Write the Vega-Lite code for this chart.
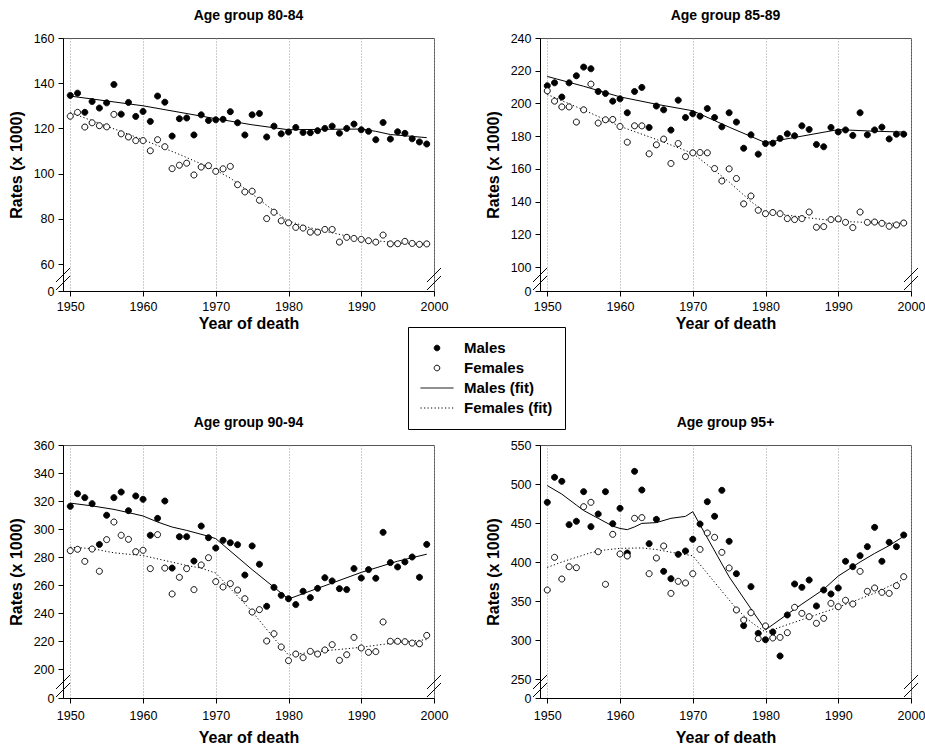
{
  "$schema": "https://vega.github.io/schema/vega-lite/v6.json",
  "background": "white",
  "padding": {"left": 7, "top": 8, "right": 5, "bottom": 3},
  "spacing": 83,
  "config": {
    "font": "Liberation Sans",
    "view": {"stroke": "#555", "strokeWidth": 1},
    "axis": {
      "labelFont": "Liberation Sans", "labelFontSize": 12.5, "labelColor": "black",
      "titleFont": "Liberation Sans", "titleFontSize": 16, "titleFontWeight": "bold", "titleColor": "black",
      "domainColor": "black", "tickColor": "black", "tickSize": 5, "labelPadding": 4,
      "labelFlush": false, "labelOverlap": false
    },
    "axisX": {"grid": true, "gridColor": "#999", "gridDash": [1, 2], "titlePadding": 3},
    "axisY": {"grid": false, "titlePadding": 9},
    "legend": {"title": null, "orient": "none", "legendX": 345, "legendY": 289, "strokeColor": "black", "fillColor": "white", "padding": 12, "labelFont": "Liberation Sans", "labelFontSize": 15, "labelFontWeight": "bold", "labelColor": "black", "labelOffset": 10, "symbolSize": 1089, "symbolStrokeWidth": 1, "clipHeight": 18, "rowPadding": 2},
    "title": {"font": "Liberation Sans", "fontSize": 14, "fontWeight": "bold", "color": "black", "anchor": "middle", "frame": "group", "offset": 9, "baseline": "alphabetic"}
  },
  "datasets": {
    "obs": [
      {"a":"80-84","year":1950,"Males":134.6,"Females":125.4},{"a":"80-84","year":1951,"Males":135.6,"Females":127.1},{"a":"80-84","year":1952,"Males":127.1,"Females":120.6},{"a":"80-84","year":1953,"Males":131.9,"Females":122.5},{"a":"80-84","year":1954,"Males":129.0,"Females":121.2},{"a":"80-84","year":1955,"Males":131.3,"Females":120.7},{"a":"80-84","year":1956,"Males":139.4,"Females":126.2},{"a":"80-84","year":1957,"Males":126.3,"Females":117.6},{"a":"80-84","year":1958,"Males":131.5,"Females":116.2},{"a":"80-84","year":1959,"Males":125.3,"Females":114.6},
      {"a":"80-84","year":1960,"Males":127.5,"Females":114.6},{"a":"80-84","year":1961,"Males":123.1,"Females":110.1},{"a":"80-84","year":1962,"Males":134.3,"Females":115.0},{"a":"80-84","year":1963,"Males":131.6,"Females":111.9},{"a":"80-84","year":1964,"Males":116.6,"Females":102.2},{"a":"80-84","year":1965,"Males":124.3,"Females":103.7},{"a":"80-84","year":1966,"Males":124.6,"Females":104.6},{"a":"80-84","year":1967,"Males":117.1,"Females":99.4},{"a":"80-84","year":1968,"Males":126.0,"Females":102.9},{"a":"80-84","year":1969,"Males":123.5,"Females":103.5},
      {"a":"80-84","year":1970,"Males":123.8,"Females":101.0},{"a":"80-84","year":1971,"Males":124.0,"Females":102.1},{"a":"80-84","year":1972,"Males":127.4,"Females":103.2},{"a":"80-84","year":1973,"Males":122.5,"Females":95.1},{"a":"80-84","year":1974,"Males":117.1,"Females":91.9},{"a":"80-84","year":1975,"Males":126.0,"Females":92.2},{"a":"80-84","year":1976,"Males":126.6,"Females":88.2},{"a":"80-84","year":1977,"Males":116.2,"Females":80.1},{"a":"80-84","year":1978,"Males":121.0,"Females":82.9},{"a":"80-84","year":1979,"Males":117.6,"Females":79.1},
      {"a":"80-84","year":1980,"Males":118.4,"Females":78.2},{"a":"80-84","year":1981,"Males":120.4,"Females":76.2},{"a":"80-84","year":1982,"Males":118.2,"Females":75.9},{"a":"80-84","year":1983,"Males":118.1,"Females":74.1},{"a":"80-84","year":1984,"Males":119.0,"Females":74.1},{"a":"80-84","year":1985,"Males":120.0,"Females":75.3},{"a":"80-84","year":1986,"Males":121.0,"Females":75.3},{"a":"80-84","year":1987,"Males":117.9,"Females":69.7},{"a":"80-84","year":1988,"Males":120.0,"Females":71.8},{"a":"80-84","year":1989,"Males":121.9,"Females":71.3},
      {"a":"80-84","year":1990,"Males":119.4,"Females":70.9},{"a":"80-84","year":1991,"Males":118.7,"Females":70.3},{"a":"80-84","year":1992,"Males":115.0,"Females":69.7},{"a":"80-84","year":1993,"Males":122.6,"Females":72.8},{"a":"80-84","year":1994,"Males":115.3,"Females":68.9},{"a":"80-84","year":1995,"Males":118.5,"Females":69.0},{"a":"80-84","year":1996,"Males":117.8,"Females":70.0},{"a":"80-84","year":1997,"Males":115.4,"Females":69.1},{"a":"80-84","year":1998,"Males":114.0,"Females":68.7},{"a":"80-84","year":1999,"Males":113.1,"Females":68.9},

      {"a":"85-89","year":1950,"Males":210.8,"Females":207.7},{"a":"85-89","year":1951,"Males":212.6,"Females":201.4},{"a":"85-89","year":1952,"Males":203.9,"Females":197.9},{"a":"85-89","year":1953,"Males":212.6,"Females":197.9},{"a":"85-89","year":1954,"Males":216.9,"Females":188.6},{"a":"85-89","year":1955,"Males":222.2,"Females":196.1},{"a":"85-89","year":1956,"Males":221.2,"Females":211.8},{"a":"85-89","year":1957,"Males":207.3,"Females":188.0},{"a":"85-89","year":1958,"Males":206.1,"Females":190.0},{"a":"85-89","year":1959,"Males":201.4,"Females":190.2},
      {"a":"85-89","year":1960,"Males":202.8,"Females":185.9},{"a":"85-89","year":1961,"Males":194.3,"Females":176.3},{"a":"85-89","year":1962,"Males":207.3,"Females":186.3},{"a":"85-89","year":1963,"Males":209.8,"Females":186.3},{"a":"85-89","year":1964,"Males":185.3,"Females":169.2},{"a":"85-89","year":1965,"Males":198.4,"Females":174.7},{"a":"85-89","year":1966,"Males":196.1,"Females":178.2},{"a":"85-89","year":1967,"Males":183.7,"Females":163.3},{"a":"85-89","year":1968,"Males":202.0,"Females":175.5},{"a":"85-89","year":1969,"Males":191.4,"Females":167.5},
      {"a":"85-89","year":1970,"Males":193.7,"Females":169.8},{"a":"85-89","year":1971,"Males":192.2,"Females":170.0},{"a":"85-89","year":1972,"Males":196.9,"Females":169.8},{"a":"85-89","year":1973,"Males":191.4,"Females":160.2},{"a":"85-89","year":1974,"Males":185.7,"Females":152.6},{"a":"85-89","year":1975,"Males":194.3,"Females":160.0},{"a":"85-89","year":1976,"Males":188.6,"Females":154.1},{"a":"85-89","year":1977,"Males":172.6,"Females":138.6},{"a":"85-89","year":1978,"Males":180.8,"Females":143.4},{"a":"85-89","year":1979,"Males":169.0,"Females":134.7},
      {"a":"85-89","year":1980,"Males":175.5,"Females":132.6},{"a":"85-89","year":1981,"Males":175.7,"Females":133.3},{"a":"85-89","year":1982,"Males":178.6,"Females":132.6},{"a":"85-89","year":1983,"Males":181.4,"Females":129.6},{"a":"85-89","year":1984,"Males":180.2,"Females":129.0},{"a":"85-89","year":1985,"Males":186.3,"Females":129.6},{"a":"85-89","year":1986,"Males":184.1,"Females":133.6},{"a":"85-89","year":1987,"Males":174.9,"Females":124.3},{"a":"85-89","year":1988,"Males":173.5,"Females":124.7},{"a":"85-89","year":1989,"Males":185.3,"Females":129.0},
      {"a":"85-89","year":1990,"Males":182.6,"Females":129.4},{"a":"85-89","year":1991,"Males":183.8,"Females":127.3},{"a":"85-89","year":1992,"Males":180.4,"Females":124.1},{"a":"85-89","year":1993,"Males":194.3,"Females":133.6},{"a":"85-89","year":1994,"Males":180.8,"Females":127.3},{"a":"85-89","year":1995,"Males":183.8,"Females":127.5},{"a":"85-89","year":1996,"Males":185.5,"Females":126.7},{"a":"85-89","year":1997,"Males":178.3,"Females":124.9},{"a":"85-89","year":1998,"Males":181.2,"Females":125.7},{"a":"85-89","year":1999,"Males":181.2,"Females":126.9},

      {"a":"90-94","year":1950,"Males":316.2,"Females":284.5},{"a":"90-94","year":1951,"Males":325.2,"Females":285.5},{"a":"90-94","year":1952,"Males":322.4,"Females":276.9},{"a":"90-94","year":1953,"Males":318.1,"Females":285.7},{"a":"90-94","year":1954,"Males":289.0,"Females":269.8},{"a":"90-94","year":1955,"Males":309.8,"Females":292.4},{"a":"90-94","year":1956,"Males":322.4,"Females":305.0},{"a":"90-94","year":1957,"Males":326.4,"Females":295.5},{"a":"90-94","year":1958,"Males":313.1,"Females":292.6},{"a":"90-94","year":1959,"Males":323.6,"Females":283.8},
      {"a":"90-94","year":1960,"Males":321.2,"Females":284.8},{"a":"90-94","year":1961,"Males":295.5,"Females":271.7},{"a":"90-94","year":1962,"Males":307.6,"Females":296.0},{"a":"90-94","year":1963,"Males":320.0,"Females":272.1},{"a":"90-94","year":1964,"Males":272.1,"Females":253.6},{"a":"90-94","year":1965,"Males":294.5,"Females":265.5},{"a":"90-94","year":1966,"Males":294.5,"Females":271.7},{"a":"90-94","year":1967,"Males":277.1,"Females":256.7},{"a":"90-94","year":1968,"Males":302.1,"Females":274.3},{"a":"90-94","year":1969,"Males":293.8,"Females":279.5},
      {"a":"90-94","year":1970,"Males":286.4,"Females":262.4},{"a":"90-94","year":1971,"Males":291.9,"Females":258.6},{"a":"90-94","year":1972,"Males":290.2,"Females":261.0},{"a":"90-94","year":1973,"Males":288.8,"Females":256.4},{"a":"90-94","year":1974,"Males":267.1,"Females":250.2},{"a":"90-94","year":1975,"Males":287.9,"Females":240.7},{"a":"90-94","year":1976,"Males":274.8,"Females":242.4},{"a":"90-94","year":1977,"Males":244.8,"Females":220.0},{"a":"90-94","year":1978,"Males":258.3,"Females":225.2},{"a":"90-94","year":1979,"Males":252.6,"Females":215.7},
      {"a":"90-94","year":1980,"Males":250.2,"Females":206.0},{"a":"90-94","year":1981,"Males":246.0,"Females":210.7},{"a":"90-94","year":1982,"Males":255.5,"Females":208.1},{"a":"90-94","year":1983,"Males":251.0,"Females":212.6},{"a":"90-94","year":1984,"Males":257.6,"Females":210.7},{"a":"90-94","year":1985,"Males":265.2,"Females":213.6},{"a":"90-94","year":1986,"Males":262.9,"Females":217.4},{"a":"90-94","year":1987,"Males":257.4,"Females":206.2},{"a":"90-94","year":1988,"Males":256.7,"Females":210.2},{"a":"90-94","year":1989,"Males":271.7,"Females":222.6},
      {"a":"90-94","year":1990,"Males":265.0,"Females":215.0},{"a":"90-94","year":1991,"Males":271.0,"Females":211.9},{"a":"90-94","year":1992,"Males":264.8,"Females":212.4},{"a":"90-94","year":1993,"Males":297.6,"Females":233.6},{"a":"90-94","year":1994,"Males":276.0,"Females":219.8},{"a":"90-94","year":1995,"Males":272.9,"Females":219.8},{"a":"90-94","year":1996,"Males":276.5,"Females":219.5},{"a":"90-94","year":1997,"Males":280.0,"Females":218.5},{"a":"90-94","year":1998,"Males":265.5,"Females":218.0},{"a":"90-94","year":1999,"Males":289.0,"Females":224.0},

      {"a":"95+","year":1950,"Males":476.5,"Females":364.1},{"a":"95+","year":1951,"Males":508.6,"Females":406.0},{"a":"95+","year":1952,"Males":503.4,"Females":378.2},{"a":"95+","year":1953,"Males":447.9,"Females":394.0},{"a":"95+","year":1954,"Males":452.2,"Females":392.7},{"a":"95+","year":1955,"Males":490.2,"Females":470.9},{"a":"95+","year":1956,"Males":445.3,"Females":476.5},{"a":"95+","year":1957,"Males":461.5,"Females":413.2},{"a":"95+","year":1958,"Males":490.2,"Females":371.4},{"a":"95+","year":1959,"Males":449.1,"Females":435.5},
      {"a":"95+","year":1960,"Males":468.8,"Females":410.3},{"a":"95+","year":1961,"Males":411.5,"Females":407.7},{"a":"95+","year":1962,"Males":516.2,"Females":456.0},{"a":"95+","year":1963,"Males":492.3,"Females":456.9},{"a":"95+","year":1964,"Males":423.5,"Females":385.0},{"a":"95+","year":1965,"Males":454.7,"Females":405.1},{"a":"95+","year":1966,"Males":388.0,"Females":420.5},{"a":"95+","year":1967,"Males":378.6,"Females":359.8},{"a":"95+","year":1968,"Males":409.8,"Females":375.2},{"a":"95+","year":1969,"Males":414.1,"Females":373.1},
      {"a":"95+","year":1970,"Males":429.1,"Females":385.0},{"a":"95+","year":1971,"Males":448.7,"Females":416.2},{"a":"95+","year":1972,"Males":477.3,"Females":437.2},{"a":"95+","year":1973,"Males":458.6,"Females":431.6},{"a":"95+","year":1974,"Males":491.9,"Females":412.4},{"a":"95+","year":1975,"Males":426.5,"Females":392.3},{"a":"95+","year":1976,"Males":385.0,"Females":338.5},{"a":"95+","year":1977,"Males":318.4,"Females":325.6},{"a":"95+","year":1978,"Males":368.4,"Females":335.0},{"a":"95+","year":1979,"Males":308.5,"Females":301.7},
      {"a":"95+","year":1980,"Males":300.4,"Females":318.0},{"a":"95+","year":1981,"Males":310.3,"Females":302.6},{"a":"95+","year":1982,"Males":279.5,"Females":303.4},{"a":"95+","year":1983,"Males":332.1,"Females":309.4},{"a":"95+","year":1984,"Males":371.8,"Females":341.9},{"a":"95+","year":1985,"Males":367.5,"Females":334.2},{"a":"95+","year":1986,"Males":376.9,"Females":329.9},{"a":"95+","year":1987,"Males":343.6,"Females":321.4},{"a":"95+","year":1988,"Males":364.1,"Females":327.8},{"a":"95+","year":1989,"Males":359.0,"Females":347.0},
      {"a":"95+","year":1990,"Males":366.7,"Females":342.7},{"a":"95+","year":1991,"Males":400.9,"Females":350.9},{"a":"95+","year":1992,"Males":394.0,"Females":346.2},{"a":"95+","year":1993,"Males":408.1,"Females":388.0},{"a":"95+","year":1994,"Males":419.7,"Females":362.4},{"a":"95+","year":1995,"Males":444.4,"Females":366.7},{"a":"95+","year":1996,"Males":400.9,"Females":361.1},{"a":"95+","year":1997,"Males":425.2,"Females":359.8},{"a":"95+","year":1998,"Males":419.7,"Females":369.7},{"a":"95+","year":1999,"Males":434.6,"Females":381.2}
    ],
    "fit": [
      {"a":"80-84","s":"M","year":1950,"rate":134.3},{"a":"80-84","s":"M","year":1960,"rate":130.0},{"a":"80-84","s":"M","year":1970,"rate":124.3},{"a":"80-84","s":"M","year":1975,"rate":121.6},{"a":"80-84","s":"M","year":1980,"rate":119.4},{"a":"80-84","s":"M","year":1985,"rate":119.6},{"a":"80-84","s":"M","year":1990,"rate":119.7},{"a":"80-84","s":"M","year":1992,"rate":118.7},{"a":"80-84","s":"M","year":1994,"rate":117.3},{"a":"80-84","s":"M","year":1999,"rate":115.9},
      {"a":"80-84","s":"F","year":1950,"rate":127.0},{"a":"80-84","s":"F","year":1955,"rate":121.0},{"a":"80-84","s":"F","year":1960,"rate":115.0},{"a":"80-84","s":"F","year":1965,"rate":108.5},{"a":"80-84","s":"F","year":1970,"rate":101.5},{"a":"80-84","s":"F","year":1972,"rate":98.0},{"a":"80-84","s":"F","year":1975,"rate":91.0},{"a":"80-84","s":"F","year":1978,"rate":83.5},{"a":"80-84","s":"F","year":1980,"rate":79.0},{"a":"80-84","s":"F","year":1983,"rate":76.0},{"a":"80-84","s":"F","year":1985,"rate":74.5},{"a":"80-84","s":"F","year":1990,"rate":71.0},{"a":"80-84","s":"F","year":1995,"rate":69.3},{"a":"80-84","s":"F","year":1999,"rate":68.5},
      {"a":"85-89","s":"M","year":1950,"rate":216.5},{"a":"85-89","s":"M","year":1955,"rate":210.5},{"a":"85-89","s":"M","year":1960,"rate":204.0},{"a":"85-89","s":"M","year":1965,"rate":199.5},{"a":"85-89","s":"M","year":1970,"rate":195.5},{"a":"85-89","s":"M","year":1975,"rate":185.5},{"a":"85-89","s":"M","year":1980,"rate":176.0},{"a":"85-89","s":"M","year":1985,"rate":180.0},{"a":"85-89","s":"M","year":1990,"rate":184.0},{"a":"85-89","s":"M","year":1995,"rate":183.0},{"a":"85-89","s":"M","year":1999,"rate":182.5},
      {"a":"85-89","s":"F","year":1950,"rate":205.5},{"a":"85-89","s":"F","year":1955,"rate":196.0},{"a":"85-89","s":"F","year":1960,"rate":186.0},{"a":"85-89","s":"F","year":1965,"rate":178.0},{"a":"85-89","s":"F","year":1970,"rate":169.5},{"a":"85-89","s":"F","year":1975,"rate":152.0},{"a":"85-89","s":"F","year":1978,"rate":140.0},{"a":"85-89","s":"F","year":1980,"rate":133.5},{"a":"85-89","s":"F","year":1985,"rate":130.5},{"a":"85-89","s":"F","year":1990,"rate":128.0},{"a":"85-89","s":"F","year":1995,"rate":127.0},{"a":"85-89","s":"F","year":1999,"rate":126.7},
      {"a":"90-94","s":"M","year":1950,"rate":318.5},{"a":"90-94","s":"M","year":1953,"rate":316.5},{"a":"90-94","s":"M","year":1956,"rate":314.0},{"a":"90-94","s":"M","year":1958,"rate":311.7},{"a":"90-94","s":"M","year":1960,"rate":309.3},{"a":"90-94","s":"M","year":1962,"rate":305.0},{"a":"90-94","s":"M","year":1964,"rate":301.4},{"a":"90-94","s":"M","year":1966,"rate":299.0},{"a":"90-94","s":"M","year":1969,"rate":294.8},{"a":"90-94","s":"M","year":1970,"rate":293.1},{"a":"90-94","s":"M","year":1975,"rate":271.0},{"a":"90-94","s":"M","year":1980,"rate":250.0},{"a":"90-94","s":"M","year":1985,"rate":259.5},{"a":"90-94","s":"M","year":1990,"rate":269.0},{"a":"90-94","s":"M","year":1995,"rate":277.0},{"a":"90-94","s":"M","year":1999,"rate":282.0},
      {"a":"90-94","s":"F","year":1950,"rate":287.0},{"a":"90-94","s":"F","year":1953,"rate":286.0},{"a":"90-94","s":"F","year":1956,"rate":283.0},{"a":"90-94","s":"F","year":1960,"rate":281.0},{"a":"90-94","s":"F","year":1963,"rate":277.5},{"a":"90-94","s":"F","year":1966,"rate":274.0},{"a":"90-94","s":"F","year":1968,"rate":272.0},{"a":"90-94","s":"F","year":1970,"rate":268.5},{"a":"90-94","s":"F","year":1975,"rate":241.0},{"a":"90-94","s":"F","year":1978,"rate":222.0},{"a":"90-94","s":"F","year":1980,"rate":210.0},{"a":"90-94","s":"F","year":1985,"rate":213.0},{"a":"90-94","s":"F","year":1990,"rate":215.5},{"a":"90-94","s":"F","year":1995,"rate":219.0},{"a":"90-94","s":"F","year":1999,"rate":221.0},
      {"a":"95+","s":"M","year":1950,"rate":498.0},{"a":"95+","s":"M","year":1952,"rate":487.0},{"a":"95+","s":"M","year":1954,"rate":473.0},{"a":"95+","s":"M","year":1955,"rate":466.0},{"a":"95+","s":"M","year":1957,"rate":456.0},{"a":"95+","s":"M","year":1959,"rate":446.0},{"a":"95+","s":"M","year":1960,"rate":443.0},{"a":"95+","s":"M","year":1961,"rate":441.5},{"a":"95+","s":"M","year":1962,"rate":445.0},{"a":"95+","s":"M","year":1963,"rate":449.5},{"a":"95+","s":"M","year":1965,"rate":450.5},{"a":"95+","s":"M","year":1967,"rate":456.0},{"a":"95+","s":"M","year":1969,"rate":458.5},{"a":"95+","s":"M","year":1970,"rate":464.5},{"a":"95+","s":"M","year":1972,"rate":431.0},{"a":"95+","s":"M","year":1975,"rate":381.0},{"a":"95+","s":"M","year":1978,"rate":340.0},{"a":"95+","s":"M","year":1980,"rate":313.0},{"a":"95+","s":"M","year":1983,"rate":333.0},{"a":"95+","s":"M","year":1985,"rate":346.0},{"a":"95+","s":"M","year":1988,"rate":365.0},{"a":"95+","s":"M","year":1990,"rate":382.0},{"a":"95+","s":"M","year":1993,"rate":400.0},{"a":"95+","s":"M","year":1995,"rate":411.0},{"a":"95+","s":"M","year":1997,"rate":421.0},{"a":"95+","s":"M","year":1999,"rate":433.0},
      {"a":"95+","s":"F","year":1950,"rate":393.0},{"a":"95+","s":"F","year":1952,"rate":400.0},{"a":"95+","s":"F","year":1954,"rate":406.0},{"a":"95+","s":"F","year":1956,"rate":412.0},{"a":"95+","s":"F","year":1958,"rate":415.5},{"a":"95+","s":"F","year":1960,"rate":417.5},{"a":"95+","s":"F","year":1963,"rate":418.0},{"a":"95+","s":"F","year":1965,"rate":416.0},{"a":"95+","s":"F","year":1967,"rate":412.5},{"a":"95+","s":"F","year":1970,"rate":408.0},{"a":"95+","s":"F","year":1973,"rate":374.0},{"a":"95+","s":"F","year":1976,"rate":340.0},{"a":"95+","s":"F","year":1978,"rate":323.0},{"a":"95+","s":"F","year":1980,"rate":310.0},{"a":"95+","s":"F","year":1985,"rate":326.0},{"a":"95+","s":"F","year":1990,"rate":342.0},{"a":"95+","s":"F","year":1995,"rate":360.0},{"a":"95+","s":"F","year":1999,"rate":378.0}
    ]
  },
  "vconcat": [
    {
      "spacing": 35,
      "hconcat": [
        {
          "width": 371, "height": 253,
          "title": "Age group 80-84",
          "layer": [
            {"data": {"name": "fit"}, "transform": [{"filter": "datum.a === '80-84' && datum.s === 'M'"}], "mark": {"type": "line", "color": "black", "strokeWidth": 1},
             "encoding": {
               "x": {"field": "year", "type": "quantitative", "scale": {"domain": [1949, 2000], "nice": false, "zero": false}, "axis": {"values": [1950, 1960, 1970, 1980, 1990, 2000], "format": "d", "title": "Year of death", "grid": true, "labelOverlap": false, "labelFlush": false}},
               "y": {"field": "rate", "type": "quantitative", "scale": {"domain": [0, 60, 160], "range": [253, 226, 0], "nice": false, "zero": false}, "axis": {"values": [0, 60, 80, 100, 120, 140, 160], "title": "Rates (x 1000)", "grid": false, "labelOverlap": false, "labelFlush": false}}
             }},
            {"data": {"name": "fit"}, "transform": [{"filter": "datum.a === '80-84' && datum.s === 'F'"}], "mark": {"type": "line", "color": "black", "strokeWidth": 1, "strokeDash": [1.2, 2.3]},
             "encoding": {
               "x": {"field": "year", "type": "quantitative", "scale": {"domain": [1949, 2000], "nice": false, "zero": false}, "axis": {"values": [1950, 1960, 1970, 1980, 1990, 2000], "format": "d", "title": "Year of death", "grid": true, "labelOverlap": false, "labelFlush": false}},
               "y": {"field": "rate", "type": "quantitative", "scale": {"domain": [0, 60, 160], "range": [253, 226, 0], "nice": false, "zero": false}, "axis": {"values": [0, 60, 80, 100, 120, 140, 160], "title": "Rates (x 1000)", "grid": false, "labelOverlap": false, "labelFlush": false}}
             }},
            {"data": {"name": "obs"}, "transform": [{"filter": "datum.a === '80-84'"}, {"fold": ["Males", "Females"], "as": ["series", "rate"]}],
             "mark": {"type": "point", "size": 1246, "strokeWidth": 1, "opacity": 1, "filled": true},
             "encoding": {
               "x": {"field": "year", "type": "quantitative", "scale": {"domain": [1949, 2000], "nice": false, "zero": false}, "axis": {"values": [1950, 1960, 1970, 1980, 1990, 2000], "format": "d", "title": "Year of death", "grid": true, "labelOverlap": false, "labelFlush": false}},
               "y": {"field": "rate", "type": "quantitative", "scale": {"domain": [0, 60, 160], "range": [253, 226, 0], "nice": false, "zero": false}, "axis": {"values": [0, 60, 80, 100, 120, 140, 160], "title": "Rates (x 1000)", "grid": false, "labelOverlap": false, "labelFlush": false}},
               "shape": {"field": "series", "type": "nominal", "scale": {"domain": ["Males", "Females", "Males (fit)", "Females (fit)"], "range": ["M0.17,0 C0.17,0.0939 0.0939,0.17 0,0.17 C-0.0939,0.17 -0.17,0.0939 -0.17,0 C-0.17,-0.0939 -0.0939,-0.17 0,-0.17 C0.0939,-0.17 0.17,-0.0939 0.17,0 Z", "M0.17,0 C0.17,0.0939 0.0939,0.17 0,0.17 C-0.0939,0.17 -0.17,0.0939 -0.17,0 C-0.17,-0.0939 -0.0939,-0.17 0,-0.17 C0.0939,-0.17 0.17,-0.0939 0.17,0 Z", "stroke", "stroke"]}},
               "fill": {"field": "series", "type": "nominal", "scale": {"domain": ["Males", "Females", "Males (fit)", "Females (fit)"], "range": ["black", "white", "white", "white"]}},
               "stroke": {"field": "series", "type": "nominal", "scale": {"domain": ["Males", "Females", "Males (fit)", "Females (fit)"], "range": ["black", "black", "black", "black"]}},
               "strokeDash": {"field": "series", "type": "nominal", "scale": {"domain": ["Males", "Females", "Males (fit)", "Females (fit)"], "range": [[1, 0], [1, 0], [1, 0], [1.2, 2.3]]}}
             }},
            {"data": {"values": [{}]}, "mark": {"type": "point", "shape": "M-1,0.429L1,-1.571M-1,1.571L1,-0.429", "size": 196, "color": "black", "strokeWidth": 1, "filled": false, "opacity": 1}, "encoding": {
               "x": {"datum": 1949, "type": "quantitative", "scale": {"domain": [1949, 2000], "nice": false, "zero": false}, "axis": {"values": [1950, 1960, 1970, 1980, 1990, 2000], "format": "d", "title": "Year of death", "grid": true, "labelOverlap": false, "labelFlush": false}},
               "y": {"datum": 26.7, "type": "quantitative", "scale": {"domain": [0, 60, 160], "range": [253, 226, 0], "nice": false, "zero": false}, "axis": {"values": [0, 60, 80, 100, 120, 140, 160], "title": "Rates (x 1000)", "grid": false, "labelOverlap": false, "labelFlush": false}}}},
            {"data": {"values": [{}]}, "mark": {"type": "point", "shape": "M-1,0.429L1,-1.571M-1,1.571L1,-0.429", "size": 196, "color": "black", "strokeWidth": 1, "filled": false, "opacity": 1}, "encoding": {
               "x": {"datum": 2000, "type": "quantitative", "scale": {"domain": [1949, 2000], "nice": false, "zero": false}, "axis": {"values": [1950, 1960, 1970, 1980, 1990, 2000], "format": "d", "title": "Year of death", "grid": true, "labelOverlap": false, "labelFlush": false}},
               "y": {"datum": 26.7, "type": "quantitative", "scale": {"domain": [0, 60, 160], "range": [253, 226, 0], "nice": false, "zero": false}, "axis": {"values": [0, 60, 80, 100, 120, 140, 160], "title": "Rates (x 1000)", "grid": false, "labelOverlap": false, "labelFlush": false}}}}
          ]
        },
        {
          "width": 371, "height": 253,
          "title": "Age group 85-89",
          "layer": [
            {"data": {"name": "fit"}, "transform": [{"filter": "datum.a === '85-89' && datum.s === 'M'"}], "mark": {"type": "line", "color": "black", "strokeWidth": 1},
             "encoding": {
               "x": {"field": "year", "type": "quantitative", "scale": {"domain": [1949, 2000], "nice": false, "zero": false}, "axis": {"values": [1950, 1960, 1970, 1980, 1990, 2000], "format": "d", "title": "Year of death", "grid": true, "labelOverlap": false, "labelFlush": false}},
               "y": {"field": "rate", "type": "quantitative", "scale": {"domain": [0, 100, 240], "range": [253, 229, 0], "nice": false, "zero": false}, "axis": {"values": [0, 100, 120, 140, 160, 180, 200, 220, 240], "title": "Rates (x 1000)", "grid": false, "labelOverlap": false, "labelFlush": false}}
             }},
            {"data": {"name": "fit"}, "transform": [{"filter": "datum.a === '85-89' && datum.s === 'F'"}], "mark": {"type": "line", "color": "black", "strokeWidth": 1, "strokeDash": [1.2, 2.3]},
             "encoding": {
               "x": {"field": "year", "type": "quantitative", "scale": {"domain": [1949, 2000], "nice": false, "zero": false}, "axis": {"values": [1950, 1960, 1970, 1980, 1990, 2000], "format": "d", "title": "Year of death", "grid": true, "labelOverlap": false, "labelFlush": false}},
               "y": {"field": "rate", "type": "quantitative", "scale": {"domain": [0, 100, 240], "range": [253, 229, 0], "nice": false, "zero": false}, "axis": {"values": [0, 100, 120, 140, 160, 180, 200, 220, 240], "title": "Rates (x 1000)", "grid": false, "labelOverlap": false, "labelFlush": false}}
             }},
            {"data": {"name": "obs"}, "transform": [{"filter": "datum.a === '85-89'"}, {"fold": ["Males", "Females"], "as": ["series", "rate"]}],
             "mark": {"type": "point", "size": 1246, "strokeWidth": 1, "opacity": 1, "filled": true},
             "encoding": {
               "x": {"field": "year", "type": "quantitative", "scale": {"domain": [1949, 2000], "nice": false, "zero": false}, "axis": {"values": [1950, 1960, 1970, 1980, 1990, 2000], "format": "d", "title": "Year of death", "grid": true, "labelOverlap": false, "labelFlush": false}},
               "y": {"field": "rate", "type": "quantitative", "scale": {"domain": [0, 100, 240], "range": [253, 229, 0], "nice": false, "zero": false}, "axis": {"values": [0, 100, 120, 140, 160, 180, 200, 220, 240], "title": "Rates (x 1000)", "grid": false, "labelOverlap": false, "labelFlush": false}},
               "shape": {"field": "series", "type": "nominal", "scale": {"domain": ["Males", "Females", "Males (fit)", "Females (fit)"], "range": ["M0.17,0 C0.17,0.0939 0.0939,0.17 0,0.17 C-0.0939,0.17 -0.17,0.0939 -0.17,0 C-0.17,-0.0939 -0.0939,-0.17 0,-0.17 C0.0939,-0.17 0.17,-0.0939 0.17,0 Z", "M0.17,0 C0.17,0.0939 0.0939,0.17 0,0.17 C-0.0939,0.17 -0.17,0.0939 -0.17,0 C-0.17,-0.0939 -0.0939,-0.17 0,-0.17 C0.0939,-0.17 0.17,-0.0939 0.17,0 Z", "stroke", "stroke"]}},
               "fill": {"field": "series", "type": "nominal", "scale": {"domain": ["Males", "Females", "Males (fit)", "Females (fit)"], "range": ["black", "white", "white", "white"]}},
               "stroke": {"field": "series", "type": "nominal", "scale": {"domain": ["Males", "Females", "Males (fit)", "Females (fit)"], "range": ["black", "black", "black", "black"]}},
               "strokeDash": {"field": "series", "type": "nominal", "scale": {"domain": ["Males", "Females", "Males (fit)", "Females (fit)"], "range": [[1, 0], [1, 0], [1, 0], [1.2, 2.3]]}}
             }},
            {"data": {"values": [{}]}, "mark": {"type": "point", "shape": "M-1,0.429L1,-1.571M-1,1.571L1,-0.429", "size": 196, "color": "black", "strokeWidth": 1, "filled": false, "opacity": 1}, "encoding": {
               "x": {"datum": 1949, "type": "quantitative", "scale": {"domain": [1949, 2000], "nice": false, "zero": false}, "axis": {"values": [1950, 1960, 1970, 1980, 1990, 2000], "format": "d", "title": "Year of death", "grid": true, "labelOverlap": false, "labelFlush": false}},
               "y": {"datum": 50, "type": "quantitative", "scale": {"domain": [0, 100, 240], "range": [253, 229, 0], "nice": false, "zero": false}, "axis": {"values": [0, 100, 120, 140, 160, 180, 200, 220, 240], "title": "Rates (x 1000)", "grid": false, "labelOverlap": false, "labelFlush": false}}}},
            {"data": {"values": [{}]}, "mark": {"type": "point", "shape": "M-1,0.429L1,-1.571M-1,1.571L1,-0.429", "size": 196, "color": "black", "strokeWidth": 1, "filled": false, "opacity": 1}, "encoding": {
               "x": {"datum": 2000, "type": "quantitative", "scale": {"domain": [1949, 2000], "nice": false, "zero": false}, "axis": {"values": [1950, 1960, 1970, 1980, 1990, 2000], "format": "d", "title": "Year of death", "grid": true, "labelOverlap": false, "labelFlush": false}},
               "y": {"datum": 50, "type": "quantitative", "scale": {"domain": [0, 100, 240], "range": [253, 229, 0], "nice": false, "zero": false}, "axis": {"values": [0, 100, 120, 140, 160, 180, 200, 220, 240], "title": "Rates (x 1000)", "grid": false, "labelOverlap": false, "labelFlush": false}}}}
          ]
        }
      ]
    },
    {
      "spacing": 35,
      "hconcat": [
        {
          "width": 371, "height": 253,
          "title": "Age group 90-94",
          "layer": [
            {"data": {"name": "fit"}, "transform": [{"filter": "datum.a === '90-94' && datum.s === 'M'"}], "mark": {"type": "line", "color": "black", "strokeWidth": 1},
             "encoding": {
               "x": {"field": "year", "type": "quantitative", "scale": {"domain": [1949, 2000], "nice": false, "zero": false}, "axis": {"values": [1950, 1960, 1970, 1980, 1990, 2000], "format": "d", "title": "Year of death", "grid": true, "labelPadding": 6, "titlePadding": 8, "labelOverlap": false, "labelFlush": false}},
               "y": {"field": "rate", "type": "quantitative", "scale": {"domain": [0, 200, 360], "range": [253, 224, 0], "nice": false, "zero": false}, "axis": {"values": [0, 200, 220, 240, 260, 280, 300, 320, 340, 360], "title": "Rates (x 1000)", "grid": false, "labelOverlap": false, "labelFlush": false}}
             }},
            {"data": {"name": "fit"}, "transform": [{"filter": "datum.a === '90-94' && datum.s === 'F'"}], "mark": {"type": "line", "color": "black", "strokeWidth": 1, "strokeDash": [1.2, 2.3]},
             "encoding": {
               "x": {"field": "year", "type": "quantitative", "scale": {"domain": [1949, 2000], "nice": false, "zero": false}, "axis": {"values": [1950, 1960, 1970, 1980, 1990, 2000], "format": "d", "title": "Year of death", "grid": true, "labelPadding": 6, "titlePadding": 8, "labelOverlap": false, "labelFlush": false}},
               "y": {"field": "rate", "type": "quantitative", "scale": {"domain": [0, 200, 360], "range": [253, 224, 0], "nice": false, "zero": false}, "axis": {"values": [0, 200, 220, 240, 260, 280, 300, 320, 340, 360], "title": "Rates (x 1000)", "grid": false, "labelOverlap": false, "labelFlush": false}}
             }},
            {"data": {"name": "obs"}, "transform": [{"filter": "datum.a === '90-94'"}, {"fold": ["Males", "Females"], "as": ["series", "rate"]}],
             "mark": {"type": "point", "size": 1246, "strokeWidth": 1, "opacity": 1, "filled": true},
             "encoding": {
               "x": {"field": "year", "type": "quantitative", "scale": {"domain": [1949, 2000], "nice": false, "zero": false}, "axis": {"values": [1950, 1960, 1970, 1980, 1990, 2000], "format": "d", "title": "Year of death", "grid": true, "labelPadding": 6, "titlePadding": 8, "labelOverlap": false, "labelFlush": false}},
               "y": {"field": "rate", "type": "quantitative", "scale": {"domain": [0, 200, 360], "range": [253, 224, 0], "nice": false, "zero": false}, "axis": {"values": [0, 200, 220, 240, 260, 280, 300, 320, 340, 360], "title": "Rates (x 1000)", "grid": false, "labelOverlap": false, "labelFlush": false}},
               "shape": {"field": "series", "type": "nominal", "scale": {"domain": ["Males", "Females", "Males (fit)", "Females (fit)"], "range": ["M0.17,0 C0.17,0.0939 0.0939,0.17 0,0.17 C-0.0939,0.17 -0.17,0.0939 -0.17,0 C-0.17,-0.0939 -0.0939,-0.17 0,-0.17 C0.0939,-0.17 0.17,-0.0939 0.17,0 Z", "M0.17,0 C0.17,0.0939 0.0939,0.17 0,0.17 C-0.0939,0.17 -0.17,0.0939 -0.17,0 C-0.17,-0.0939 -0.0939,-0.17 0,-0.17 C0.0939,-0.17 0.17,-0.0939 0.17,0 Z", "stroke", "stroke"]}},
               "fill": {"field": "series", "type": "nominal", "scale": {"domain": ["Males", "Females", "Males (fit)", "Females (fit)"], "range": ["black", "white", "white", "white"]}},
               "stroke": {"field": "series", "type": "nominal", "scale": {"domain": ["Males", "Females", "Males (fit)", "Females (fit)"], "range": ["black", "black", "black", "black"]}},
               "strokeDash": {"field": "series", "type": "nominal", "scale": {"domain": ["Males", "Females", "Males (fit)", "Females (fit)"], "range": [[1, 0], [1, 0], [1, 0], [1.2, 2.3]]}}
             }},
            {"data": {"values": [{}]}, "mark": {"type": "point", "shape": "M-1,0.429L1,-1.571M-1,1.571L1,-0.429", "size": 196, "color": "black", "strokeWidth": 1, "filled": false, "opacity": 1}, "encoding": {
               "x": {"datum": 1949, "type": "quantitative", "scale": {"domain": [1949, 2000], "nice": false, "zero": false}, "axis": {"values": [1950, 1960, 1970, 1980, 1990, 2000], "format": "d", "title": "Year of death", "grid": true, "labelPadding": 6, "titlePadding": 8, "labelOverlap": false, "labelFlush": false}},
               "y": {"datum": 82.8, "type": "quantitative", "scale": {"domain": [0, 200, 360], "range": [253, 224, 0], "nice": false, "zero": false}, "axis": {"values": [0, 200, 220, 240, 260, 280, 300, 320, 340, 360], "title": "Rates (x 1000)", "grid": false, "labelOverlap": false, "labelFlush": false}}}},
            {"data": {"values": [{}]}, "mark": {"type": "point", "shape": "M-1,0.429L1,-1.571M-1,1.571L1,-0.429", "size": 196, "color": "black", "strokeWidth": 1, "filled": false, "opacity": 1}, "encoding": {
               "x": {"datum": 2000, "type": "quantitative", "scale": {"domain": [1949, 2000], "nice": false, "zero": false}, "axis": {"values": [1950, 1960, 1970, 1980, 1990, 2000], "format": "d", "title": "Year of death", "grid": true, "labelPadding": 6, "titlePadding": 8, "labelOverlap": false, "labelFlush": false}},
               "y": {"datum": 82.8, "type": "quantitative", "scale": {"domain": [0, 200, 360], "range": [253, 224, 0], "nice": false, "zero": false}, "axis": {"values": [0, 200, 220, 240, 260, 280, 300, 320, 340, 360], "title": "Rates (x 1000)", "grid": false, "labelOverlap": false, "labelFlush": false}}}}
          ]
        },
        {
          "width": 371, "height": 253,
          "title": "Age group 95+",
          "layer": [
            {"data": {"name": "fit"}, "transform": [{"filter": "datum.a === '95+' && datum.s === 'M'"}], "mark": {"type": "line", "color": "black", "strokeWidth": 1},
             "encoding": {
               "x": {"field": "year", "type": "quantitative", "scale": {"domain": [1949, 2000], "nice": false, "zero": false}, "axis": {"values": [1950, 1960, 1970, 1980, 1990, 2000], "format": "d", "title": "Year of death", "grid": true, "labelPadding": 6, "titlePadding": 8, "labelOverlap": false, "labelFlush": false}},
               "y": {"field": "rate", "type": "quantitative", "scale": {"domain": [0, 250, 550], "range": [253, 234, 0], "nice": false, "zero": false}, "axis": {"values": [0, 250, 300, 350, 400, 450, 500, 550], "title": "Rates (x 1000)", "grid": false, "labelOverlap": false, "labelFlush": false}}
             }},
            {"data": {"name": "fit"}, "transform": [{"filter": "datum.a === '95+' && datum.s === 'F'"}], "mark": {"type": "line", "color": "black", "strokeWidth": 1, "strokeDash": [1.2, 2.3]},
             "encoding": {
               "x": {"field": "year", "type": "quantitative", "scale": {"domain": [1949, 2000], "nice": false, "zero": false}, "axis": {"values": [1950, 1960, 1970, 1980, 1990, 2000], "format": "d", "title": "Year of death", "grid": true, "labelPadding": 6, "titlePadding": 8, "labelOverlap": false, "labelFlush": false}},
               "y": {"field": "rate", "type": "quantitative", "scale": {"domain": [0, 250, 550], "range": [253, 234, 0], "nice": false, "zero": false}, "axis": {"values": [0, 250, 300, 350, 400, 450, 500, 550], "title": "Rates (x 1000)", "grid": false, "labelOverlap": false, "labelFlush": false}}
             }},
            {"data": {"name": "obs"}, "transform": [{"filter": "datum.a === '95+'"}, {"fold": ["Males", "Females"], "as": ["series", "rate"]}],
             "mark": {"type": "point", "size": 1246, "strokeWidth": 1, "opacity": 1, "filled": true},
             "encoding": {
               "x": {"field": "year", "type": "quantitative", "scale": {"domain": [1949, 2000], "nice": false, "zero": false}, "axis": {"values": [1950, 1960, 1970, 1980, 1990, 2000], "format": "d", "title": "Year of death", "grid": true, "labelPadding": 6, "titlePadding": 8, "labelOverlap": false, "labelFlush": false}},
               "y": {"field": "rate", "type": "quantitative", "scale": {"domain": [0, 250, 550], "range": [253, 234, 0], "nice": false, "zero": false}, "axis": {"values": [0, 250, 300, 350, 400, 450, 500, 550], "title": "Rates (x 1000)", "grid": false, "labelOverlap": false, "labelFlush": false}},
               "shape": {"field": "series", "type": "nominal", "scale": {"domain": ["Males", "Females", "Males (fit)", "Females (fit)"], "range": ["M0.17,0 C0.17,0.0939 0.0939,0.17 0,0.17 C-0.0939,0.17 -0.17,0.0939 -0.17,0 C-0.17,-0.0939 -0.0939,-0.17 0,-0.17 C0.0939,-0.17 0.17,-0.0939 0.17,0 Z", "M0.17,0 C0.17,0.0939 0.0939,0.17 0,0.17 C-0.0939,0.17 -0.17,0.0939 -0.17,0 C-0.17,-0.0939 -0.0939,-0.17 0,-0.17 C0.0939,-0.17 0.17,-0.0939 0.17,0 Z", "stroke", "stroke"]}},
               "fill": {"field": "series", "type": "nominal", "scale": {"domain": ["Males", "Females", "Males (fit)", "Females (fit)"], "range": ["black", "white", "white", "white"]}},
               "stroke": {"field": "series", "type": "nominal", "scale": {"domain": ["Males", "Females", "Males (fit)", "Females (fit)"], "range": ["black", "black", "black", "black"]}},
               "strokeDash": {"field": "series", "type": "nominal", "scale": {"domain": ["Males", "Females", "Males (fit)", "Females (fit)"], "range": [[1, 0], [1, 0], [1, 0], [1.2, 2.3]]}}
             }},
            {"data": {"values": [{}]}, "mark": {"type": "point", "shape": "M-1,0.429L1,-1.571M-1,1.571L1,-0.429", "size": 196, "color": "black", "strokeWidth": 1, "filled": false, "opacity": 1}, "encoding": {
               "x": {"datum": 1949, "type": "quantitative", "scale": {"domain": [1949, 2000], "nice": false, "zero": false}, "axis": {"values": [1950, 1960, 1970, 1980, 1990, 2000], "format": "d", "title": "Year of death", "grid": true, "labelPadding": 6, "titlePadding": 8, "labelOverlap": false, "labelFlush": false}},
               "y": {"datum": 158, "type": "quantitative", "scale": {"domain": [0, 250, 550], "range": [253, 234, 0], "nice": false, "zero": false}, "axis": {"values": [0, 250, 300, 350, 400, 450, 500, 550], "title": "Rates (x 1000)", "grid": false, "labelOverlap": false, "labelFlush": false}}}},
            {"data": {"values": [{}]}, "mark": {"type": "point", "shape": "M-1,0.429L1,-1.571M-1,1.571L1,-0.429", "size": 196, "color": "black", "strokeWidth": 1, "filled": false, "opacity": 1}, "encoding": {
               "x": {"datum": 2000, "type": "quantitative", "scale": {"domain": [1949, 2000], "nice": false, "zero": false}, "axis": {"values": [1950, 1960, 1970, 1980, 1990, 2000], "format": "d", "title": "Year of death", "grid": true, "labelPadding": 6, "titlePadding": 8, "labelOverlap": false, "labelFlush": false}},
               "y": {"datum": 158, "type": "quantitative", "scale": {"domain": [0, 250, 550], "range": [253, 234, 0], "nice": false, "zero": false}, "axis": {"values": [0, 250, 300, 350, 400, 450, 500, 550], "title": "Rates (x 1000)", "grid": false, "labelOverlap": false, "labelFlush": false}}}}
          ]
        }
      ]
    }
  ]
}
